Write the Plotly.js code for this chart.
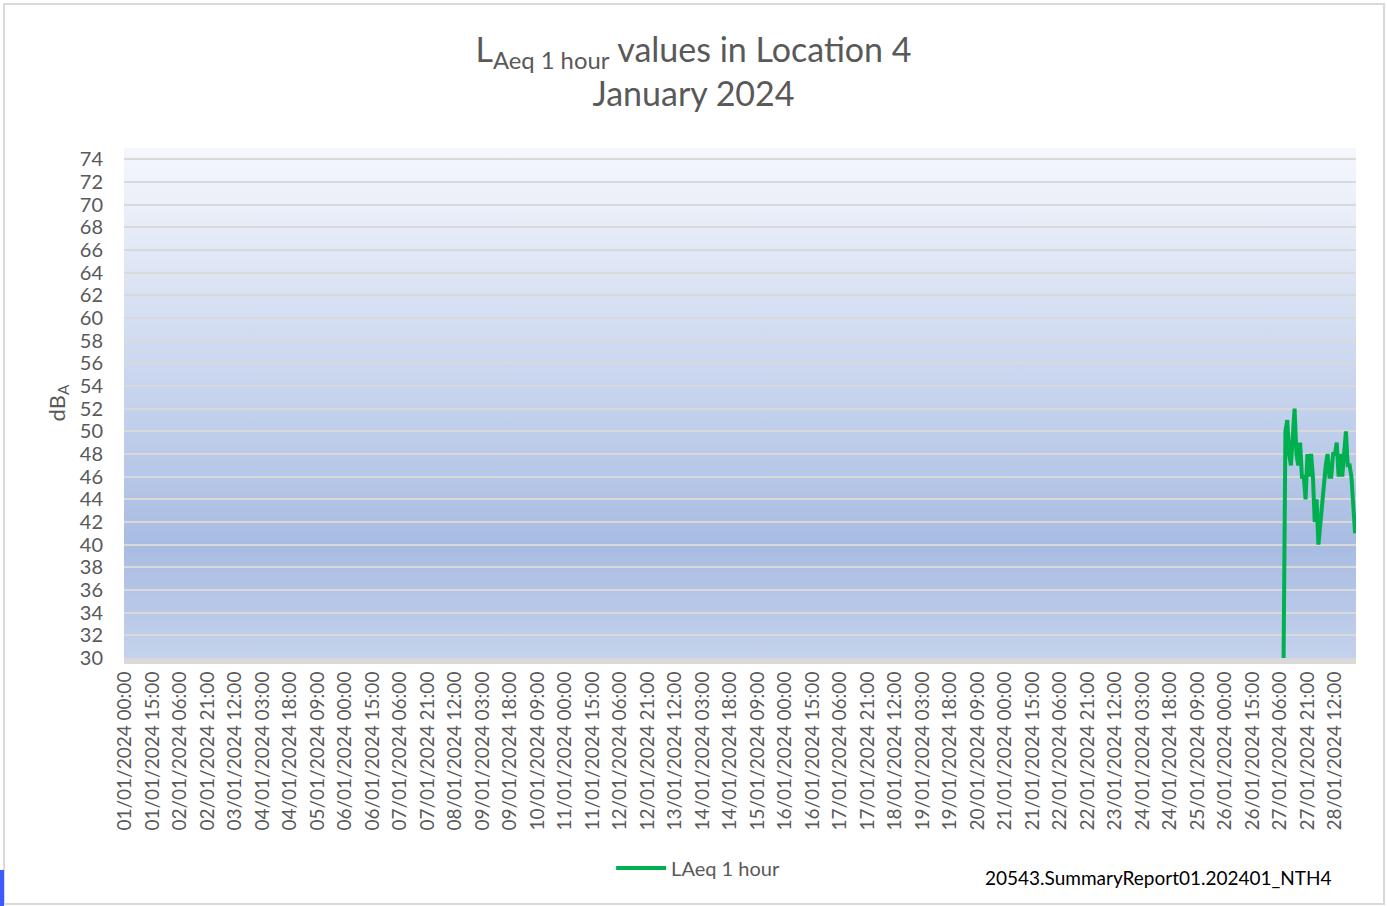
<!DOCTYPE html>
<html>
<head>
<meta charset="utf-8">
<script src="https://cdn.plot.ly/plotly-3.0.1.min.js"></script>
<style>
  html, body { margin: 0; padding: 0; background: #ffffff; }
  #wrap { position: relative; width: 1387px; height: 906px; }
  #chart { width: 1387px; height: 906px; }
  #frame { position: absolute; left: 3px; top: 3px; width: 1378px; height: 898px; border: 2px solid #d9d9d9; pointer-events: none; }
  #mark { position: absolute; left: 0; top: 870px; width: 4px; height: 36px; background: #3d5afe; pointer-events: none; }
</style>
</head>
<body>
<div id="wrap">
  <div id="chart"></div>
  <div id="frame"></div>
  <div id="mark"></div>
</div>
<script>
// ---- Data ----
const days = 28;            // 01/01/2024 .. 28/01/2024, hourly categories
const tickEvery = 15;       // a tick label every 15 hours
const seriesName = "LAeq 1 hour";
const firstMeasured = "27/01/2024 08:00";
const laeqValues = [30, 50, 51, 48, 47, 49, 52, 48, 47, 49,
                    46, 46, 44, 48, 46, 48, 46, 42, 44, 40,
                    42, 44, 45, 47, 48, 46, 46, 48, 48, 49,
                    46, 48, 46, 48, 50, 47, 47, 46, 43, 41];

// ---- Build categories ----
const pad = n => String(n).padStart(2, "0");
const categories = [];
for (let d = 1; d <= days; d++) {
  for (let h = 0; h < 24; h++) {
    categories.push(pad(d) + "/01/2024 " + pad(h) + ":00");
  }
}
const startIdx = categories.indexOf(firstMeasured);
const yValues = categories.map((c, i) => {
  const k = i - startIdx;
  return (k >= 0 && k < laeqValues.length) ? laeqValues[k] : null;
});
const tickLabels = categories.filter((c, i) => i % tickEvery === 0);

// ---- Background gradient (plot area) ----
const svg = '<svg xmlns="http://www.w3.org/2000/svg" width="100" height="100" preserveAspectRatio="none">' +
  '<defs><linearGradient id="g" x1="0" y1="0" x2="0" y2="1">' +
  '<stop offset="0" stop-color="#f5f7fc"/>' +
  '<stop offset="0.45" stop-color="#c9d6ee"/>' +
  '<stop offset="0.78" stop-color="#a8bce2"/>' +
  '<stop offset="1" stop-color="#c4d2ec"/>' +
  '</linearGradient></defs><rect x="0" y="0" width="100" height="100" fill="url(#g)"/></svg>';
const bgUri = "data:image/svg+xml;charset=utf-8," + encodeURIComponent(svg);

const font = "Lato, 'Open Sans', sans-serif";
const grey = "#595959";

const trace = {
  type: "scatter",
  mode: "lines",
  name: seriesName,
  x: categories,
  y: yValues,
  connectgaps: false,
  line: { color: "#00b050", width: 4 },
  hoverinfo: "x+y"
};

const layout = {
  width: 1387,
  height: 906,
  margin: { l: 124, r: 31, t: 148, b: 248 },
  paper_bgcolor: "#ffffff",
  plot_bgcolor: "rgba(0,0,0,0)",
  font: { family: font, color: grey },
  title: {
    text: "L<sub>Aeq 1 hour</sub> values in Location 4<br>January 2024",
    font: { family: font, size: 34, color: grey },
    x: 0.5, xanchor: "center",
    y: 1 - 62 / 906, yanchor: "top"
  },
  images: [{
    source: bgUri, xref: "paper", yref: "paper",
    x: 0, y: 1, sizex: 1, sizey: 1,
    xanchor: "left", yanchor: "top",
    sizing: "stretch", layer: "below"
  }],
  xaxis: {
    type: "category",
    categoryorder: "array",
    categoryarray: categories,
    range: [-0.5, categories.length - 0.5],
    tickmode: "array",
    tickvals: tickLabels,
    ticktext: tickLabels,
    tickangle: -90,
    tickfont: { family: font, size: 19, color: grey },
    showgrid: false,
    zeroline: false,
    showline: true,
    linecolor: "#d9d9d9",
    linewidth: 6,
    ticks: "",
    ticklabelstandoff: 0
  },
  yaxis: {
    range: [30, 75],
    dtick: 2,
    tick0: 30,
    showgrid: true,
    gridcolor: "#d9d9d9",
    gridwidth: 2,
    zeroline: false,
    showline: false,
    ticks: "",
    ticklabelstandoff: 20,
    tickfont: { family: font, size: 20, color: grey },
    title: {
      text: "dB<sub>A</sub>",
      font: { family: font, size: 22, color: grey },
      standoff: 8
    }
  },
  showlegend: true,
  legend: {
    orientation: "h",
    x: 0.466, xanchor: "center",
    y: (658 - 868) / 510, yanchor: "middle",
    font: { family: font, size: 20, color: grey },
    bgcolor: "rgba(0,0,0,0)",
    itemwidth: 50
  },
  annotations: [{
    text: "20543.SummaryReport01.202401_NTH4",
    xref: "paper", yref: "paper",
    x: (983 - 124) / 1232, xanchor: "left",
    y: (658 - 877) / 510, yanchor: "middle",
    showarrow: false,
    font: { family: font, size: 19, color: "#000000" }
  }]
};

Plotly.newPlot("chart", [trace], layout, { displayModeBar: false, responsive: false });
</script>
</body>
</html>
